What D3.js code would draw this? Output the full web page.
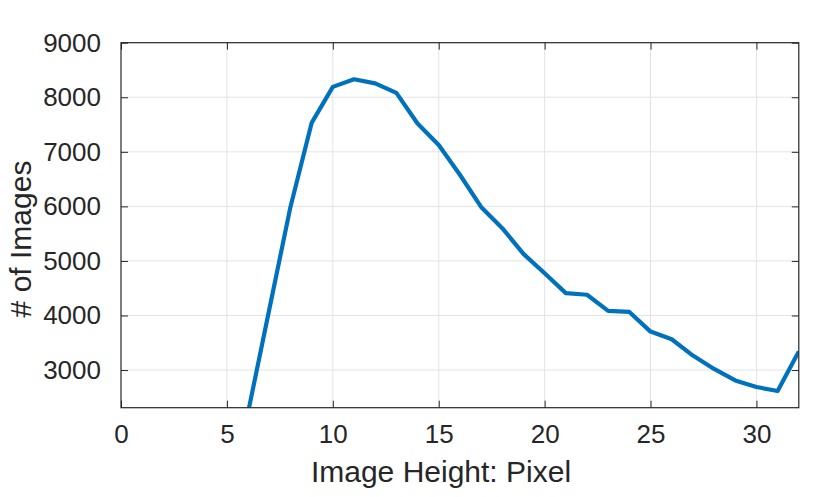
<!DOCTYPE html>
<html>
<head>
<meta charset="utf-8">
<script src="https://cdn.jsdelivr.net/npm/d3@7"></script>
<style>
    html, body { margin: 0; padding: 0; background: #fff; }
    svg text { font-family: "Liberation Sans", Arial, Helvetica, sans-serif; fill: #262626; }
</style>
</head>
<body>
<div id="chart"></div>
<script>
// Datos
const alturas = [6, 7, 8, 9, 10, 11, 12, 13, 14, 15, 16, 17, 18, 19, 20, 21, 22, 23, 24, 25, 26, 27, 28, 29, 30, 31, 32];
const imagenes = [2225, 4110, 5990, 7530, 8190, 8330, 8255, 8080, 7520, 7125, 6580, 5990, 5600, 5130, 4775, 4410, 4380, 4085, 4065, 3705, 3565, 3265, 3020, 2810, 2690, 2615, 3340];
const xTicks = [0, 5, 10, 15, 20, 25, 30];
const yTicks = [3000, 4000, 5000, 6000, 7000, 8000, 9000];

const width = 815, height = 497;
const margin = { top: 42.7, right: 815 - 798.8, bottom: 497 - 407.7, left: 121 };
const innerW = width - margin.left - margin.right;
const innerH = height - margin.top - margin.bottom;

const svg = d3.select('#chart').append('svg')
    .attr('width', width)
    .attr('height', height);

const x = d3.scaleLinear().domain([0, 32]).range([0, innerW]);
const y = d3.scaleLinear().domain([2310, 9000]).range([innerH, 0]);

const g = svg.append('g').attr('transform', `translate(${margin.left},${margin.top})`);

svg.append('defs').append('clipPath').attr('id', 'clip')
    .append('rect').attr('width', innerW).attr('height', innerH);

// Rejilla
g.append('g').selectAll('line.vx')
    .data(xTicks.filter(d => d > 0))
    .enter().append('line')
    .attr('x1', d => x(d)).attr('x2', d => x(d))
    .attr('y1', 0).attr('y2', innerH)
    .attr('stroke', '#e3e3e3').attr('stroke-width', 1);

g.append('g').selectAll('line.hy')
    .data(yTicks.filter(d => d < 9000))
    .enter().append('line')
    .attr('x1', 0).attr('x2', innerW)
    .attr('y1', d => y(d)).attr('y2', d => y(d))
    .attr('stroke', '#e3e3e3').attr('stroke-width', 1);

// Ejes (ticks hacia dentro, en los cuatro lados)
const tickLen = 7;
const xAxisB = d3.axisBottom(x).tickValues(xTicks).tickSizeInner(-tickLen).tickSizeOuter(0).tickPadding(17);
const yAxisL = d3.axisLeft(y).tickValues(yTicks).tickSizeInner(-tickLen).tickSizeOuter(0).tickPadding(20).tickFormat(d3.format('d'));
const xAxisT = d3.axisTop(x).tickValues(xTicks).tickSizeInner(-tickLen).tickSizeOuter(0).tickFormat('');
const yAxisR = d3.axisRight(y).tickValues(yTicks).tickSizeInner(-tickLen).tickSizeOuter(0).tickFormat('');

function estilo(sel) {
    sel.select('.domain').remove();
    sel.selectAll('line').attr('stroke', '#262626').attr('stroke-width', 1);
}

g.append('g').attr('transform', `translate(0,${innerH})`).call(xAxisB).call(estilo)
    .selectAll('text').attr('font-size', 26).attr('dy', '0.71em');
g.append('g').call(yAxisL).call(estilo)
    .selectAll('text').attr('font-size', 26);
g.append('g').call(xAxisT).call(estilo);
g.append('g').attr('transform', `translate(${innerW},0)`).call(yAxisR).call(estilo);

// Línea de datos
g.append('path')
    .datum(alturas.map((a, i) => [a, imagenes[i]]))
    .attr('clip-path', 'url(#clip)')
    .attr('fill', 'none')
    .attr('stroke', '#0072BD')
    .attr('stroke-width', 4.2)
    .attr('stroke-linejoin', 'round')
    .attr('d', d3.line().x(d => x(d[0])).y(d => y(d[1])));

// Marco
g.append('rect')
    .attr('width', innerW).attr('height', innerH)
    .attr('fill', 'none').attr('stroke', '#262626').attr('stroke-width', 1.2);

// Etiquetas de ejes
svg.append('text')
    .attr('x', 441).attr('y', 481.7)
    .attr('text-anchor', 'middle')
    .attr('font-size', 30)
    .text('Image Height: Pixel');

svg.append('text')
    .attr('transform', 'translate(30.5,239) rotate(-90)')
    .attr('text-anchor', 'middle')
    .attr('font-size', 30)
    .text('# of Images');
</script>
</body>
</html>
